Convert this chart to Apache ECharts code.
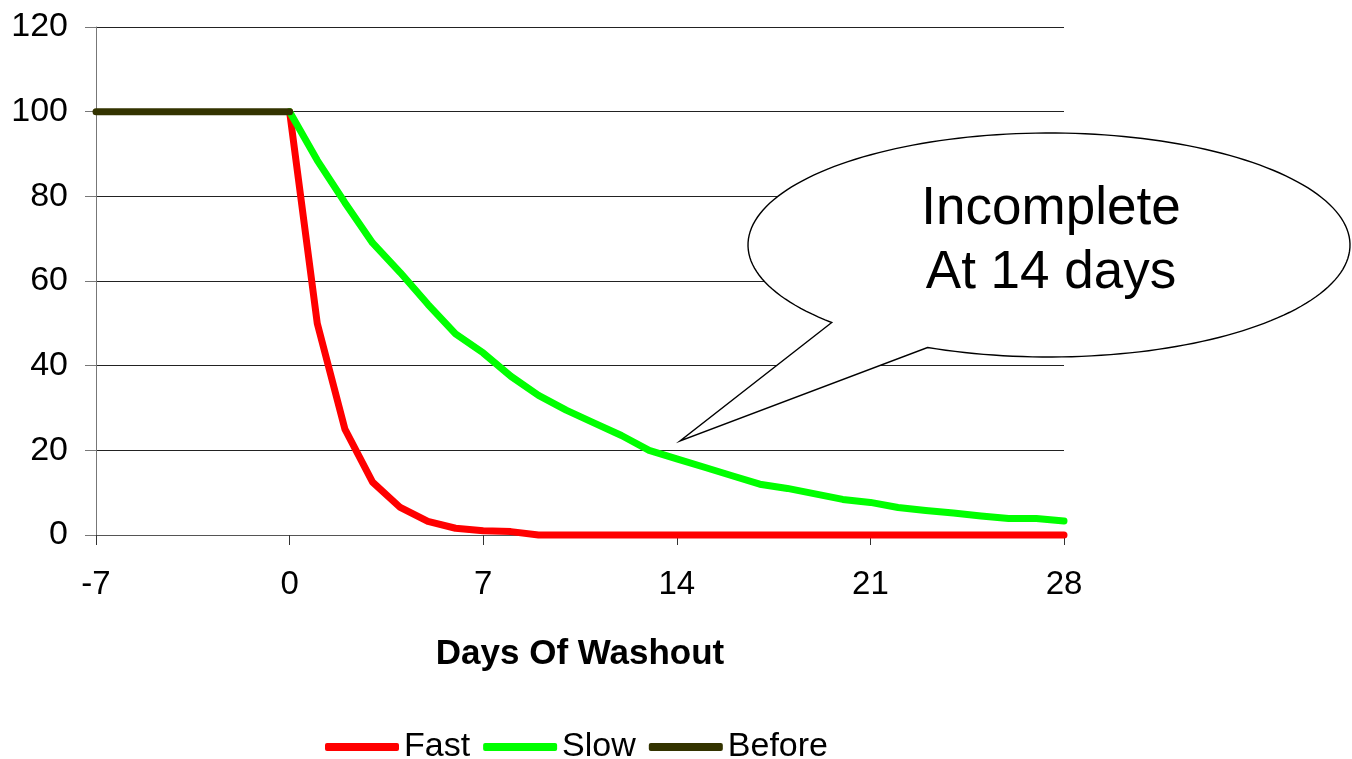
<!DOCTYPE html>
<html>
<head>
<meta charset="utf-8">
<title>Days Of Washout</title>
<script src="https://cdn.jsdelivr.net/npm/echarts@6/dist/echarts.min.js"></script>
<style>
  html, body { margin: 0; padding: 0; background: #fff; }
  #chart { width: 1352px; height: 759px; }
</style>
</head>
<body>
<div id="chart"></div>
<script>
// Days relative to the start of washout
const beforeDays = [-7, -6, -5, -4, -3, -2, -1, 0];
const beforeValues = [100, 100, 100, 100, 100, 100, 100, 100];

const washoutDays = [0, 1, 2, 3, 4, 5, 6, 7, 8, 9, 10, 11, 12, 13, 14, 15, 16, 17, 18, 19, 20, 21, 22, 23, 24, 25, 26, 27, 28];
const fastValues = [100, 50, 25, 12.5, 6.5, 3.2, 1.6, 1, 0.8, 0, 0, 0, 0, 0, 0, 0, 0, 0, 0, 0, 0, 0, 0, 0, 0, 0, 0, 0, 0];
const slowValues = [100, 88.5, 78.5, 69, 62, 54.5, 47.5, 43, 37.5, 33, 29.5, 26.5, 23.5, 20, 18, 16, 14, 12, 11, 9.7, 8.4, 7.7, 6.5, 5.8, 5.2, 4.5, 3.9, 3.9, 3.3];

const xTicks = { min: -7, max: 28, interval: 7 };
const yTicks = { min: 0, max: 120, interval: 20 };

const calloutLines = ['Incomplete', 'At 14 days'];

const pair = (xs, ys) => xs.map((x, i) => [x, ys[i]]);

const FONT = '"Liberation Sans", Arial, sans-serif';

// Speech-bubble outline: an ellipse opened between two angles, closed by a pointed tail.
function bubblePoints(cx, cy, rx, ry, startDeg, endDeg, tip) {
  const pts = [];
  const steps = 180;
  for (let i = 0; i <= steps; i++) {
    const t = (startDeg + (endDeg - startDeg) * i / steps) * Math.PI / 180;
    pts.push([cx + rx * Math.cos(t), cy + ry * Math.sin(t)]);
  }
  pts.push(tip);
  return pts;
}

const chart = echarts.init(document.getElementById('chart'), null, { renderer: 'canvas' });

function lineSeries(name, color, data) {
  return {
    name: name,
    type: 'line',
    data: data,
    symbol: 'none',
    clip: false,
    color: color,
    lineStyle: { width: 7, color: color, cap: 'round', join: 'round' },
    emphasis: { disabled: true },
    animation: false
  };
}

chart.setOption({
  backgroundColor: '#ffffff',
  animation: false,
  grid: { left: 96, right: 288, top: 27, bottom: 224, containLabel: false },
  xAxis: {
    type: 'value',
    min: xTicks.min, max: xTicks.max, interval: xTicks.interval,
    name: 'Days Of Washout',
    nameLocation: 'middle',
    nameGap: 102,
    nameTextStyle: { fontFamily: FONT, fontSize: 35, fontWeight: 'bold', color: '#000' },
    axisLine: { show: true, onZero: false, lineStyle: { color: '#555', width: 1 } },
    axisTick: { show: true, inside: false, length: 10, lineStyle: { color: '#333', width: 1 } },
    axisLabel: { margin: 33, fontFamily: FONT, fontSize: 33, color: '#000' },
    splitLine: { show: false }
  },
  yAxis: {
    type: 'value',
    min: yTicks.min, max: yTicks.max, interval: yTicks.interval,
    axisLine: { show: true, onZero: false, lineStyle: { color: '#777', width: 1 } },
    axisTick: { show: true, inside: false, length: 11, lineStyle: { color: '#777', width: 1 } },
    axisLabel: { margin: 28, fontFamily: FONT, fontSize: 34, color: '#000' },
    splitLine: { show: true, lineStyle: { color: '#222', width: 1 } }
  },
  legend: {
    top: 725,
    left: 320,
    icon: 'roundRect',
    itemWidth: 74,
    itemHeight: 8,
    itemGap: 13,
    textStyle: { fontFamily: FONT, fontSize: 34, color: '#000' },
    data: ['Fast', 'Slow', 'Before']
  },
  series: [
    lineSeries('Fast', '#ff0000', pair(washoutDays, fastValues)),
    lineSeries('Slow', '#00ff00', pair(washoutDays, slowValues)),
    lineSeries('Before', '#333300', pair(beforeDays, beforeValues))
  ],
  graphic: [
    {
      type: 'polygon',
      z: 100,
      shape: { points: bubblePoints(1049, 245, 301, 112, 113.8, -223.8, [680, 441]) },
      style: { fill: '#ffffff', stroke: '#000000', lineWidth: 1.4 }
    },
    {
      type: 'text',
      z: 101,
      x: 1051,
      y: 241,
      style: {
        text: calloutLines.join('\n'),
        font: '53px ' + FONT,
        fill: '#000',
        align: 'center',
        verticalAlign: 'middle',
        lineHeight: 64
      }
    }
  ]
});
</script>
</body>
</html>
